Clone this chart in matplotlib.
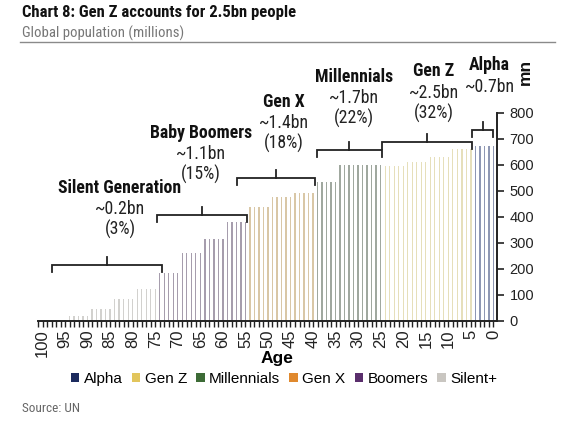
import numpy as np
import matplotlib
matplotlib.use("Agg")
import matplotlib.pyplot as plt
from matplotlib.patches import Patch
from matplotlib.ticker import MultipleLocator

COND = ['Roboto Condensed', 'Liberation Sans Narrow', 'DejaVu Sans']
ARIAL = ['Liberation Sans', 'DejaVu Sans']
plt.rcParams['font.family'] = COND

# population per 5-year age group (millions), groups 0-4, 5-9, ..., 95-99, 100
group_starts = list(range(0, 101, 5))
group_values = [674, 662, 632, 611, 595, 600, 600, 535, 494, 478, 440,
                381, 317, 263, 183, 124, 83, 45, 20, 5, 1]

generations = ['Alpha', 'Gen Z', 'Millennials', 'Gen X', 'Boomers', 'Silent+']
gen_age_ranges = [(0, 4), (5, 24), (25, 39), (40, 54), (55, 74), (75, 100)]
gen_colors = ['#1c2b5e', '#e2c55c', '#3d6b36', '#e0892e', '#5a2e6c', '#c9c6c1']
bar_tints = ['#8e97b3', '#e6dfba', '#a0a89f', '#d9c7a6', '#a69dad', '#d2d1ce']

gen_names = ['Silent Generation', 'Baby Boomers', 'Gen X', 'Millennials', 'Gen Z', 'Alpha']
gen_totals = ['~0.2bn', '~1.1bn', '~1.4bn', '~1.7bn', '~2.5bn', '~0.7bn']
gen_shares = ['(3%)', '(15%)', '(18%)', '(22%)', '(32%)', '']

# bracket spans (age from, age to, height) and label anchors (age, height of name line)
brackets = [(97.9, 73.5, 216), (74.7, 54.7, 407), (56.9, 39.6, 550),
            (39.2, 24.8, 658), (24.8, 4.8, 690), (4.8, 0.0, 734)]
label_pos = [(82.8, 513), (64.8, 725), (46.4, 844), (30.9, 940), (13.2, 960), (0.8, 983)]

ages = np.arange(0, 101)
values = []
for a in ages:
    values.append(group_values[min(a // 5, len(group_values) - 1)])


def gen_of(age):
    for i, (lo, hi) in enumerate(gen_age_ranges):
        if lo <= age <= hi:
            return i
    return len(gen_age_ranges) - 1


bar_colors = [bar_tints[gen_of(a)] for a in ages]

fig = plt.figure(figsize=(5.75, 4.22), dpi=100)
ax = fig.add_axes([38 / 575, 1 - 321 / 422, (497 - 38) / 575, (321 - 113) / 422])

ax.bar(ages, values, width=0.3, color=bar_colors, linewidth=0)

ax.set_xlim(101, -0.8)
ax.set_ylim(0, 800)
ax.yaxis.tick_right()
ax.spines['left'].set_visible(False)
ax.spines['top'].set_visible(False)
for s in ('right', 'bottom'):
    ax.spines[s].set_color('#222222')
    ax.spines[s].set_linewidth(1.4)
ax.yaxis.set_major_locator(MultipleLocator(100))
ax.xaxis.set_major_locator(MultipleLocator(5))
ax.xaxis.set_minor_locator(MultipleLocator(1))
ax.tick_params(axis='y', direction='out', length=5, width=1.2, pad=4, colors='#222222')
ax.tick_params(axis='x', which='both', direction='out', length=4, width=1.0,
               pad=2, colors='#222222')
for lbl in ax.get_yticklabels():
    lbl.set_fontfamily(ARIAL)
    lbl.set_fontsize(10.5)
for lbl in ax.get_xticklabels():
    lbl.set_fontfamily(ARIAL)
    lbl.set_fontsize(12)
    lbl.set_rotation(90)
ax.set_xlabel('Age', fontsize=12.5, fontweight='bold', family=ARIAL)
ax.xaxis.set_label_coords(0.52, -0.145)

# brackets
for (a0, a1, h) in brackets:
    mid = (a0 + a1) / 2
    ax.plot([a0, a0, a1, a1], [h - 28, h, h, h - 28], color='#222222', lw=1.3,
            clip_on=False, solid_joinstyle='miter')
    ax.plot([mid, mid], [h, h + 30], color='#222222', lw=1.3, clip_on=False)

# generation labels
for name, tot, share, (xa, ya) in zip(gen_names, gen_totals, gen_shares, label_pos):
    ax.text(xa, ya, name, ha='center', va='center', fontsize=12.8, fontweight='bold',
            color='#111111', clip_on=False)
    ax.text(xa, ya - 82, tot, ha='center', va='center', fontsize=12.8, color='#222222', clip_on=False)
    if share:
        ax.text(xa, ya - 162, share, ha='center', va='center', fontsize=12.8,
                color='#222222', clip_on=False)

fig.text(525 / 575, 1 - 72 / 422, 'mn', rotation=90, ha='center', va='center', fontsize=12.5,
         fontweight='bold', color='#111111', family=ARIAL)

handles = [Patch(facecolor=c, edgecolor='none') for c in gen_colors]
fig.legend(handles, generations, loc='center', bbox_to_anchor=(284 / 575, 1 - 379 / 422),
           ncol=6, frameon=False, prop={'family': ARIAL, 'size': 11},
           handlelength=0.55, handleheight=0.6, handletextpad=0.3, columnspacing=0.6,
           borderpad=0)

# title block
fig.text(22 / 575, 1 - 13 / 422, 'Chart 8: Gen Z accounts for 2.5bn people', fontsize=12,
         fontweight='bold', color='#111111', va='center', ha='left')
fig.text(22 / 575, 1 - 33 / 422, 'Global population (millions)', fontsize=10.6,
         color='#777777', va='center', ha='left')
fig.add_artist(plt.Line2D([20 / 575, 555 / 575], [1 - 42 / 422, 1 - 42 / 422],
                          color='#8a8a8a', lw=1.0))
fig.text(22 / 575, 1 - 408 / 422, 'Source: UN', fontsize=9.5, color='#666666',
         va='center', ha='left')

fig.savefig('out.png', dpi=100)
